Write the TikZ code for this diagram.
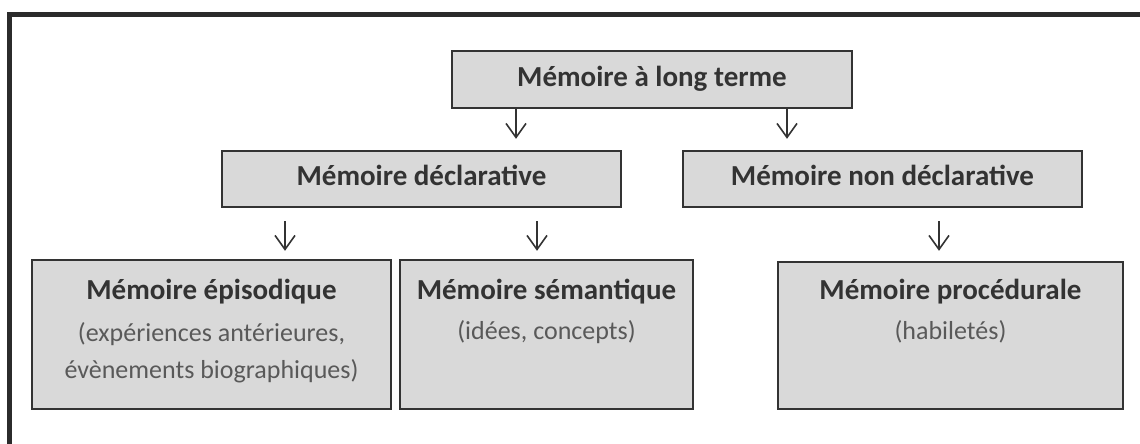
\documentclass[tikz,border=0pt]{standalone}
\usepackage{fontspec}
\setmainfont{Carlito}
\usetikzlibrary{arrows.meta}
\definecolor{boxfill}{HTML}{D9D9D9}
\definecolor{boxline}{HTML}{333333}
\definecolor{titlecol}{HTML}{333333}
\definecolor{subcol}{HTML}{595959}
\definecolor{framecol}{HTML}{2B2B2B}
\tikzset{
  membox/.style={draw=boxline, fill=boxfill, line width=2.4pt, rectangle, inner sep=0pt},
  titletext/.style={font=\fontsize{29}{34}\selectfont\bfseries, text=titlecol, inner sep=0pt, anchor=base},
  subtext/.style={font=\fontsize{26}{37}\selectfont, text=subcol, inner sep=0pt, align=center, anchor=base},
  arr/.style={draw=boxline, line width=1.6pt, -{Straight Barb[length=14pt,width=20pt,line width=1.6pt]}},
}
\begin{document}
\begin{tikzpicture}[x=1pt,y=1pt]
\useasboundingbox (0,0) rectangle (1140,-444);
\fill[white] (0,0) rectangle (1140,-444);
\begin{scope}
\clip (0,0) rectangle (1140,-444);
\draw[framecol, line width=5pt] (9.5,-14.5) rectangle (1160,-470);
\end{scope}
% boxes
\node[membox, minimum width=400pt, minimum height=57pt] (top) at (652,-79.5) {};
\node[membox, minimum width=399pt, minimum height=56pt] (decl) at (421.5,-179) {};
\node[membox, minimum width=399pt, minimum height=56pt] (nondecl) at (882.5,-179) {};
\node[membox, minimum width=359pt, minimum height=149pt] (epi) at (211.5,-334.5) {};
\node[membox, minimum width=293pt, minimum height=149pt] (sem) at (546.5,-334.5) {};
\node[membox, minimum width=345pt, minimum height=147pt] (proc) at (950.5,-335.5) {};
% texts
\node[titletext] (ttop) at (652,-86) {Mémoire à long terme};
\node[titletext] (tdecl) at (421.5,-185) {Mémoire déclarative};
\node[titletext] (tnondecl) at (882.5,-185) {Mémoire non déclarative};
\node[titletext] (tepi) at (211.5,-299) {Mémoire épisodique};
\node[titletext] (tsem) at (546.5,-299) {Mémoire sémantique};
\node[titletext] (tproc) at (950.5,-299) {Mémoire procédurale};
\node[subtext] (sepi) at (211.5,-378) {(expériences antérieures,\\évènements biographiques)};
\node[subtext] (ssem) at (546.5,-339) {(idées, concepts)};
\node[subtext] (sproc) at (950.5,-339) {(habiletés)};
% arrow columns
\coordinate (c1) at (516,0);
\coordinate (c2) at (787,0);
\coordinate (c3) at (285,0);
\coordinate (c4) at (537,0);
\coordinate (c5) at (939,0);
\draw[arr, shorten >=11pt] (top.south -| c1) -- (decl.north -| c1);
\draw[arr, shorten >=11pt] (top.south -| c2) -- (nondecl.north -| c2);
\draw[arr, shorten <=13pt, shorten >=8pt] (decl.south -| c3) -- (epi.north -| c3);
\draw[arr, shorten <=13pt, shorten >=8pt] (decl.south -| c4) -- (sem.north -| c4);
\draw[arr, shorten <=13pt, shorten >=10pt] (nondecl.south -| c5) -- (proc.north -| c5);
\end{tikzpicture}
\end{document}
